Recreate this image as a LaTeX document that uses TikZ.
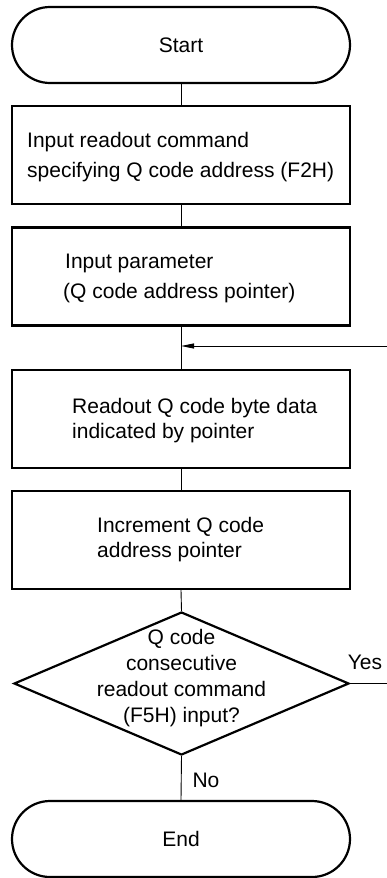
\documentclass[tikz,border=0pt]{standalone}
\usepackage{fontspec}
\setmainfont{Liberation Sans}
\usetikzlibrary{shapes.geometric,arrows.meta}
\begin{document}
\begin{tikzpicture}[x=1pt,y=-1pt,
  bord/.style={draw, line width=2.2pt},
  term/.style={bord, rectangle, rounded corners=38pt, minimum width=338pt, minimum height=76pt, inner sep=0pt, font=\fontsize{21}{25}\selectfont},
  procbox/.style={bord, rectangle, minimum width=338pt, minimum height=98pt, inner sep=0pt},
  txt/.style={font=\fontsize{21}{25}\selectfont, align=left, inner sep=0pt, anchor=west},
  ctxt/.style={font=\fontsize{21}{26}\selectfont, align=center, inner sep=0pt},
  conn/.style={line width=0.9pt},
]
\useasboundingbox (0,0) rectangle (387,878);

\node[term] (start) at (181,45) {Start};
\node[procbox] (b1) at (181,155) {};
\node[txt] (b1t) at (27,157) {Input readout command\\[5pt]specifying Q code address (F2H)};
\node[procbox] (b2) at (181,276.5) {};
\node[txt] (b2t) at (63,278) {\hspace{2pt}Input parameter\\[5pt](Q code address pointer)};
\node[procbox] (b3) at (181,419) {};
\node[txt] (b3t) at (72,420.5) {Readout Q code byte data\\indicated by pointer};
\node[procbox] (b4) at (181,540) {};
\node[txt] (b4t) at (97,540) {Increment Q code\\address pointer};
\node[bord, diamond, minimum width=335pt, minimum height=143pt, inner sep=0pt] (dec) at (181.5,683.5) {};
\node[ctxt] (dect) at (181.5,678) {Q code\\consecutive\\readout command\\(F5H) input?};
\node[term] (end) at (181,839) {End};

\node[ctxt] (yes) at (365,662) {Yes};
\node[ctxt] (no) at (206,780) {No};

\coordinate (loopin) at (181,346);
\coordinate (loopfree) at (387,346);
\coordinate (yesend) at (387,683.5);

\draw[conn] (start.south) -- (b1.north);
\draw[conn] (b1.south) -- (b2.north);
\draw[conn] (b2.south) -- (b3.north);
\draw[conn] (b3.south) -- (b4.north);
\draw[conn] (b4.south) -- (dec.north);
\draw[conn] (dec.south) -- (end.north);
\draw[conn] (dec.east) -- (yesend);
\draw[conn, -{Triangle[length=13pt,width=5pt]}] (loopfree) -- (loopin);
\end{tikzpicture}
\end{document}
